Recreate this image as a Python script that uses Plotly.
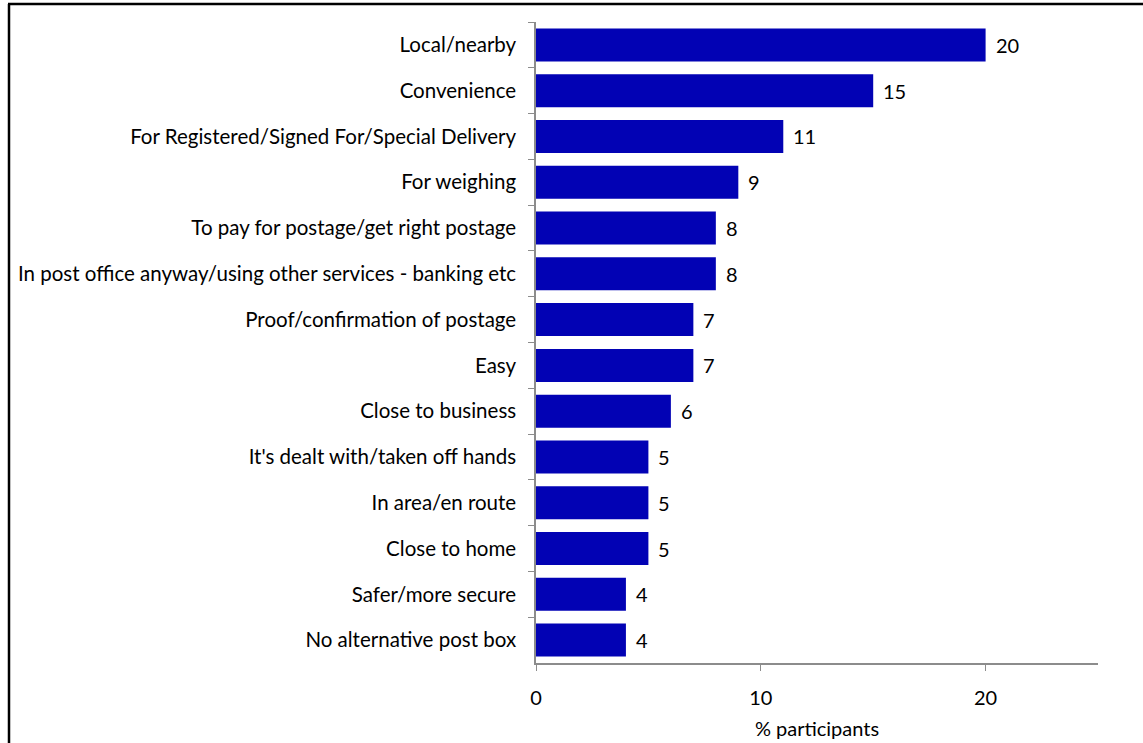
import plotly.graph_objects as go

# Reasons given, top to bottom, with % of participants
reasons = [
    "Local/nearby",
    "Convenience",
    "For Registered/Signed For/Special Delivery",
    "For weighing",
    "To pay for postage/get right postage",
    "In post office anyway/using other services - banking etc",
    "Proof/confirmation of postage",
    "Easy",
    "Close to business",
    "It's dealt with/taken off hands",
    "In area/en route",
    "Close to home",
    "Safer/more secure",
    "No alternative post box",
]
percent = [20, 15, 11, 9, 8, 8, 7, 7, 6, 5, 5, 5, 4, 4]
x_ticks = [0, 10, 20]
x_title = "% participants"

W, H = 1143, 743
L, R, T, B = 536, 45, 22, 80
FONT = "Lato, Calibri, sans-serif"

fig = go.Figure(
    go.Bar(
        x=percent,
        y=reasons,
        orientation="h",
        marker=dict(color="#0202B4", line=dict(width=0)),
        hoverinfo="skip",
    )
)

# value labels just right of each bar end
for name, v in zip(reasons, percent):
    fig.add_annotation(
        x=v, y=name, xref="x", yref="y",
        text=str(v), showarrow=False,
        xanchor="left", yanchor="middle", xshift=8,
        font=dict(size=20, color="#000000", family=FONT),
    )

pw = W - L - R
ph = H - T - B

def px_x(p):
    return (p - L) / pw

def px_y(p):
    return 1 - (p - T) / ph

# outer frame (left and top edges)
fig.add_shape(type="line", xref="paper", yref="paper",
              x0=px_x(9), x1=px_x(9), y0=px_y(4), y1=px_y(H + 5),
              line=dict(color="#000000", width=2.5))
fig.add_shape(type="line", xref="paper", yref="paper",
              x0=px_x(8), x1=px_x(W + 5), y0=px_y(4), y1=px_y(4),
              line=dict(color="#000000", width=2.5))

fig.update_layout(
    width=W,
    height=H,
    margin=dict(l=L, r=R, t=T, b=B),
    paper_bgcolor="#ffffff",
    plot_bgcolor="#ffffff",
    showlegend=False,
    bargap=0.28,
    font=dict(family=FONT, color="#000000"),
    xaxis=dict(
        range=[0, 25],
        tickvals=x_ticks,
        ticktext=[str(v) for v in x_ticks],
        tickfont=dict(size=20),
        ticks="outside",
        ticklen=6,
        tickcolor="#8c8c8c",
        ticklabelstandoff=10,
        showline=True,
        linecolor="#8c8c8c",
        linewidth=1.5,
        showgrid=False,
        zeroline=False,
        automargin=False,
        title=dict(text=x_title, font=dict(size=20), standoff=14),
    ),
    yaxis=dict(
        autorange="reversed",
        tickfont=dict(size=20.5),
        ticks="outside",
        tickson="boundaries",
        ticklen=6,
        tickcolor="#8c8c8c",
        showline=True,
        linecolor="#8c8c8c",
        linewidth=1.5,
        showgrid=False,
        automargin=False,
        ticklabelstandoff=14,
    ),
)

fig.write_html("out.html")
